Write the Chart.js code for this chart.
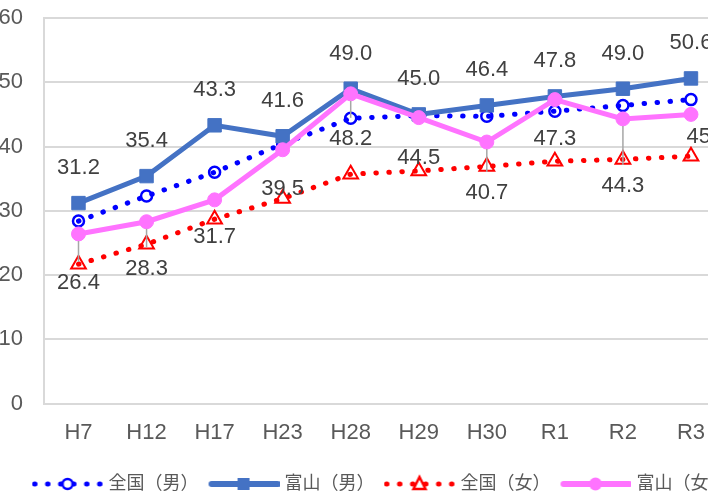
<!DOCTYPE html>
<html>
<head>
<meta charset="utf-8">
<script src="https://cdn.jsdelivr.net/npm/chart.js@4"></script>
<style>
  html, body { margin: 0; padding: 0; background: #fff; overflow: hidden; }
  #wrap { width: 708px; height: 493px; overflow: hidden; position: relative; }
  #chart { position: absolute; left: -23px; top: 0; }
</style>
</head>
<body>
<div id="wrap"><canvas id="chart" width="767" height="503"></canvas></div>
<script>
const years = ['H7', 'H12', 'H17', 'H23', 'H28', 'H29', 'H30', 'R1', 'R2', 'R3'];
const zenkokuMale = [28.4, 32.3, 36.0, 40.4, 44.4, 44.8, 44.7, 45.5, 46.4, 47.3];
const toyamaMale = [31.2, 35.4, 43.3, 41.6, 49.0, 45.0, 46.4, 47.8, 49.0, 50.6];
const zenkokuFemale = [21.7, 24.8, 28.7, 31.9, 35.7, 36.2, 36.9, 37.7, 38.0, 38.5];
const toyamaFemale = [26.4, 28.3, 31.7, 39.5, 48.2, 44.5, 40.7, 47.3, 44.3, 45.0];
const yTicks = [0, 10, 20, 30, 40, 50, 60];

// where the 富山(女) labels were dragged to, in px from the point
const femaleLabelShift = [[0, 49], [0, 47], [0, 37], [0, 39], [0, 45], [0, 40], [0, 51], [0, 39], [0, 67], [17, 23]];

const FONT = "'Liberation Sans', 'Noto Sans CJK JP', sans-serif";
Chart.defaults.font.family = FONT;

function legendIcon(color, dotted, marker) {
  const c = document.createElement('canvas');
  c.width = 72;
  c.height = 20;
  const ctx = c.getContext('2d');
  ctx.strokeStyle = color;
  ctx.fillStyle = color;
  ctx.lineCap = 'round';
  ctx.beginPath();
  if (dotted) {
    ctx.lineWidth = 5;
    ctx.setLineDash([0.5, 12.5]);
    ctx.moveTo(3, 10);
    ctx.lineTo(70, 10);
  } else {
    ctx.lineWidth = 6;
    ctx.moveTo(4, 10);
    ctx.lineTo(70, 10);
  }
  ctx.stroke();
  ctx.setLineDash([]);
  ctx.lineWidth = 2.5;
  ctx.beginPath();
  if (marker === 'ring') {
    ctx.fillStyle = '#fff';
    ctx.arc(36, 10, 5, 0, Math.PI * 2);
    ctx.fill();
    ctx.stroke();
  } else if (marker === 'square') {
    ctx.fillRect(30, 4, 12, 12);
  } else if (marker === 'triangle') {
    ctx.fillStyle = '#fff';
    ctx.moveTo(36, 3);
    ctx.lineTo(42, 15);
    ctx.lineTo(30, 15);
    ctx.closePath();
    ctx.fill();
    ctx.stroke();
  } else {
    ctx.arc(36, 10, 6.5, 0, Math.PI * 2);
    ctx.fill();
  }
  return c;
}

const legendIcons = [
  legendIcon('#0000FF', true, 'ring'),
  legendIcon('#4472C4', false, 'square'),
  legendIcon('#FF0000', true, 'triangle'),
  legendIcon('#FF73FF', false, 'dot')
];

const valueLabels = {
  id: 'valueLabels',
  afterLayout(chart) {
    // the legend in the original sits right of centre
    chart.legend.left += 30;
    chart.legend.right += 30;
  },
  afterDatasetsDraw(chart) {
    const ctx = chart.ctx;
    ctx.save();
    ctx.font = '22px ' + FONT;
    ctx.fillStyle = '#404040';
    ctx.textAlign = 'center';
    ctx.textBaseline = 'middle';
    chart.getDatasetMeta(1).data.forEach((pt, i) => {
      ctx.fillText(toyamaMale[i].toFixed(1), pt.x, pt.y - 35);
    });
    chart.getDatasetMeta(3).data.forEach((pt, i) => {
      const [dx, dy] = femaleLabelShift[i];
      if (dy > 42) {
        ctx.strokeStyle = '#A6A6A6';
        ctx.lineWidth = 1.5;
        ctx.beginPath();
        ctx.moveTo(pt.x, pt.y + 7);
        ctx.lineTo(pt.x, pt.y + dy - 21);
        ctx.stroke();
      }
      ctx.fillText(toyamaFemale[i].toFixed(1), pt.x + dx, pt.y + dy);
    });
    ctx.restore();
  }
};

new Chart(document.getElementById('chart'), {
  type: 'line',
  data: {
    labels: years,
    datasets: [
      {
        label: '全国（男）',
        data: zenkokuMale,
        borderColor: '#0000FF',
        borderWidth: 5,
        borderDash: [0.5, 12.5],
        borderCapStyle: 'round',
        pointStyle: 'circle',
        pointRadius: 5.5,
        pointBorderWidth: 2.5,
        pointBorderColor: '#0000FF',
        pointBackgroundColor: 'rgba(255,255,255,0)',
        order: 3
      },
      {
        label: '富山（男）',
        data: toyamaMale,
        borderColor: '#4472C4',
        backgroundColor: '#4472C4',
        borderWidth: 5,
        pointStyle: 'rect',
        pointRadius: 9.5,
        pointBorderWidth: 1,
        order: 2
      },
      {
        label: '全国（女）',
        data: zenkokuFemale,
        borderColor: '#FF0000',
        borderWidth: 5,
        borderDash: [0.5, 12.5],
        borderCapStyle: 'round',
        pointStyle: 'triangle',
        pointRadius: 8.5,
        pointBorderWidth: 2,
        pointBorderColor: '#FF0000',
        pointBackgroundColor: 'rgba(255,255,255,0)',
        order: 1
      },
      {
        label: '富山（女）',
        data: toyamaFemale,
        borderColor: '#FF73FF',
        backgroundColor: '#FF73FF',
        borderWidth: 5,
        pointStyle: 'circle',
        pointRadius: 7,
        pointBorderWidth: 1,
        order: 0
      }
    ]
  },
  options: {
    responsive: false,
    animation: false,
    events: [],
    layout: { padding: { top: 18, right: 19, left: 0, bottom: 0 } },
    scales: {
      x: {
        offset: true,
        afterFit: axis => { axis.paddingLeft = 0; axis.paddingRight = 0; },
        grid: { display: false, drawTicks: false, offset: true },
        border: { display: true, color: '#D9D9D9', width: 2 },
        ticks: { color: '#595959', font: { size: 22 }, padding: 16, maxRotation: 0, autoSkip: false }
      },
      y: {
        min: 0,
        max: 60,
        afterBuildTicks: axis => { axis.ticks = yTicks.map(v => ({ value: v })); },
        afterFit: axis => { axis.paddingTop = 0; axis.paddingBottom = 0; },
        grid: { color: '#D9D9D9', lineWidth: 2, drawTicks: false },
        border: { display: true, color: '#D9D9D9', width: 2 },
        ticks: { color: '#595959', font: { size: 22 }, padding: 21.5 }
      }
    },
    plugins: {
      tooltip: { enabled: false },
      legend: {
        position: 'bottom',
        reverse: true,
        labels: {
          usePointStyle: true,
          pointStyleWidth: 64,
          color: '#595959',
          font: { size: 18 },
          padding: 13,
          generateLabels(chart) {
            const items = Chart.defaults.plugins.legend.labels.generateLabels(chart);
            items.forEach(item => { item.pointStyle = legendIcons[item.datasetIndex]; });
            return items;
          }
        }
      }
    }
  },
  plugins: [valueLabels]
});
</script>
</body>
</html>
